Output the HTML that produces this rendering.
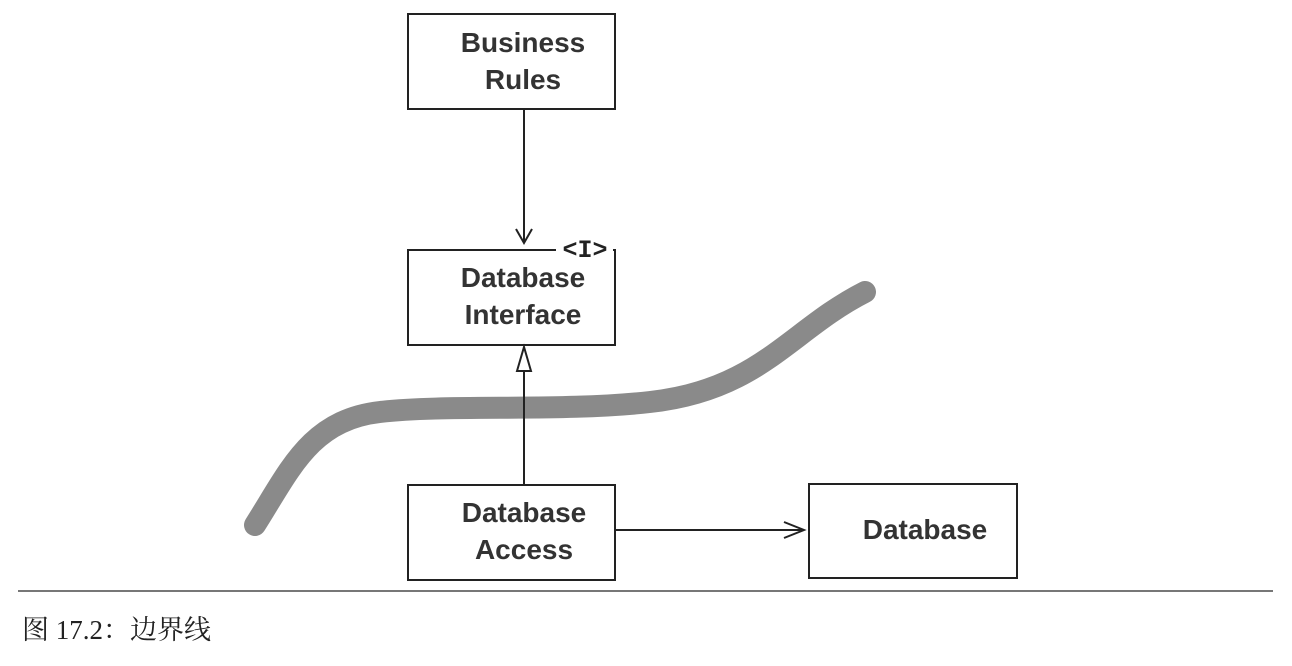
<!DOCTYPE html>
<html><head><meta charset="utf-8"><style>
html,body{margin:0;padding:0;background:#fff;width:1292px;height:666px;overflow:hidden}
</style></head><body>
<svg width="1292" height="666" viewBox="0 0 1292 666" xmlns="http://www.w3.org/2000/svg">
<path d="M255,525 C290,470 310,420 380,412 C450,404 560,412 650,402 C760,390 790,330 865,292" fill="none" stroke="#8a8a8a" stroke-width="22" stroke-linecap="round"/>
<g fill="none" stroke="#222" stroke-width="2">
<rect x="408" y="14" width="207" height="95"/>
<path d="M556,250 L408,250 L408,345 L615,345 L615,250 L613,250"/>
<rect x="408" y="485" width="207" height="95"/>
<rect x="809" y="484" width="208" height="94"/>
<line x1="524" y1="109" x2="524" y2="243"/>
<path d="M516,229 L524,243 L532,229"/>
<line x1="524" y1="371" x2="524" y2="485"/>
<path d="M517,371 L524,347 L531,371 Z"/>
<line x1="615" y1="530" x2="804" y2="530"/>
<path d="M784,522 L804,530 L784,538"/>
</g>
<line x1="18" y1="591" x2="1273" y2="591" stroke="#777" stroke-width="2"/>
<text x="585" y="257" font-family="Liberation Mono, monospace" font-weight="bold" font-size="25" text-anchor="middle" fill="#222">&lt;I&gt;</text>
<g font-family="Liberation Sans, sans-serif" font-weight="bold" font-size="28" fill="#333" text-anchor="middle">
<text x="523" y="52">Business</text>
<text x="523" y="89">Rules</text>
<text x="523" y="287">Database</text>
<text x="523" y="324">Interface</text>
<text x="524" y="522">Database</text>
<text x="524" y="559">Access</text>
<text x="925" y="539">Database</text>
</g>
<text x="22" y="639" font-family="Liberation Serif, 'Noto Serif CJK SC', serif" font-size="27" fill="#222">图 17.2：边界线</text>
</svg>
</body></html>
